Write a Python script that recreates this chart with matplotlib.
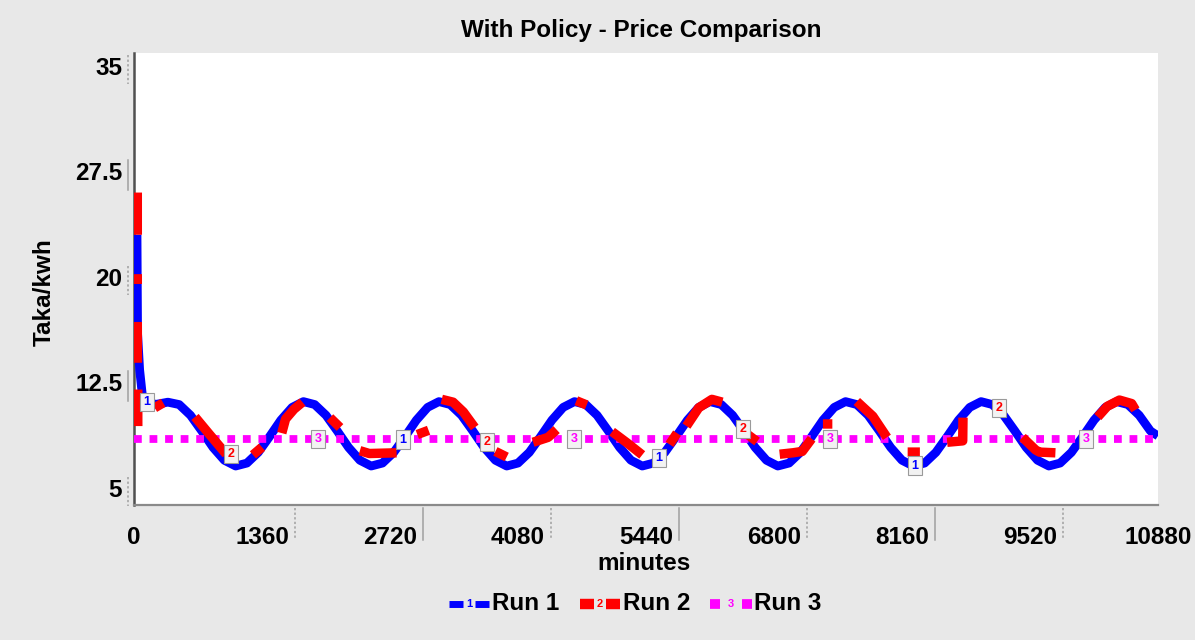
import numpy as np
import matplotlib
matplotlib.use("Agg")
import matplotlib.pyplot as plt
from matplotlib.lines import Line2D

plt.rcParams['font.family'] = ['Liberation Sans', 'DejaVu Sans']

nan = float("nan")

# labels
title = "With Policy - Price Comparison"
x_label = "minutes"
y_label = "Taka/kwh"
run_names = ["Run 1", "Run 2", "Run 3"]
x_ticks = [0, 1360, 2720, 4080, 5440, 6800, 8160, 9520, 10880]
y_ticks = [5, 12.5, 20, 27.5, 35]
y_tick_labels = ["5", "12.5", "20", "27.5", "35"]

# Run 1 (blue) - start spike, then the daily price cycle
run1_t = [32, 38, 60, 95, 170, 240, 360] + list(range(480, 10801, 120)) + [10880]
run1_v = [23.0, 16.0, 13.4, 11.2, 11.0, 10.95, 11.1,
          10.93, 10.17, 9.05, 7.88, 6.97, 6.56, 6.77, 7.53, 8.65, 9.82, 10.73, 11.14,
          10.93, 10.17, 9.05, 7.88, 6.97, 6.56, 6.77, 7.53, 8.65, 9.82, 10.73, 11.14,
          10.93, 10.17, 9.05, 7.88, 6.97, 6.56, 6.77, 7.53, 8.65, 9.82, 10.73, 11.14,
          10.93, 10.17, 9.05, 7.88, 6.97, 6.56, 6.77, 7.53, 8.65, 9.82, 10.73, 11.14,
          10.93, 10.17, 9.05, 7.88, 6.97, 6.56, 6.77, 7.53, 8.65, 9.82, 10.73, 11.14,
          10.93, 10.17, 9.05, 7.88, 6.97, 6.56, 6.77, 7.53, 8.65, 9.82, 10.73, 11.14,
          10.93, 10.17, 9.05, 7.88, 6.97, 6.56, 6.77, 7.53, 8.65, 9.82, 10.73, 11.14,
          10.93, 10.17, 9.05,
          8.7]

# Run 2 (red) - only the visible pieces, nan = gap
run2_t = [35, 35, nan, 35, 35, nan, 35, 36, nan, 40, 40, nan,
          220, 310, nan,
          648, 797, 980, nan,
          1264, 1360, nan,
          1570, 1610, 1700, 1790, nan,
          2082, 2189, nan,
          2400, 2500, 2790, nan,
          3010, 3130, nan,
          3270, 3390, 3500, 3620, nan,
          3840, 3960, nan,
          4240, 4400, 4490, nan,
          4700, 4810, nan,
          5080, 5240, 5400, nan,
          5690, 5770, nan,
          5870, 6000, 6140, 6250, nan,
          6520, 6620, nan,
          6860, 7000, 7100, 7200, nan,
          7320, 7420, nan,
          7680, 7850, 8000, nan,
          8220, 8350, nan,
          8640, 8805, 8808, nan,
          9160, 9220, nan,
          9440, 9580, 9620, 9790, nan,
          10240, 10340, 10470, 10600, 10640]
run2_v = [26.0, 23.0, nan, 20.2, 19.5, nan, 16.8, 13.9, nan, 12.0, 9.4, nan,
          10.7, 11.05, nan,
          10.05, 8.85, 7.4, nan,
          7.35, 7.9, nan,
          8.9, 9.9, 10.6, 11.1, nan,
          10.0, 9.3, nan,
          7.65, 7.45, 7.5, nan,
          8.8, 9.1, nan,
          11.3, 11.1, 10.4, 9.3, nan,
          7.6, 7.2, nan,
          8.25, 8.6, 9.15, nan,
          11.2, 10.9, nan,
          9.0, 8.2, 7.35, nan,
          8.1, 8.9, nan,
          9.4, 10.7, 11.3, 11.1, nan,
          8.8, 8.3, nan,
          7.4, 7.5, 7.6, 8.5, nan,
          9.55, 9.55, nan,
          11.15, 10.1, 8.6, nan,
          7.55, 7.55, nan,
          8.25, 8.35, 10.0, nan,
          10.9, 10.5, nan,
          8.6, 7.7, 7.55, 7.5, nan,
          10.05, 10.8, 11.25, 11.0, 10.55]

# Run 3 (magenta) - flat price
run3_t = [0, 10880]
run3_v = [8.5, 8.5]

# figure setup (pixel layout of the original)
W, H = 1195, 640
bg = '#e8e8e8'
colors = ['#0000ff', '#ff0000', '#ff00ff']
fs = 17.5

fig = plt.figure(figsize=(W / 100, H / 100), dpi=100, facecolor=bg)
ax = fig.add_axes([134 / W, (H - 505) / H, 1024 / W, 452 / H])
ax.set_facecolor('white')


def fxy(px, py):
    return px / W, 1 - py / H


# lines
ax.plot(run1_t, run1_v, color=colors[0], lw=6.3, solid_capstyle='butt',
        solid_joinstyle='round', zorder=3)
ax.plot(run3_t, run3_v, color=colors[2], lw=5.6, linestyle=(0, (1, 1.0)),
        dash_capstyle='butt', zorder=4)
ax.plot(run2_t, run2_v, color=colors[1], lw=6.8, solid_capstyle='butt',
        solid_joinstyle='round', zorder=5)

# little numbered markers along each run
series = [(run1_t, run1_v), (run2_t, run2_v), (run3_t, run3_v)]
marker_start = [138, 1031, 1955]
for i, (tt, vv) in enumerate(series):
    tt = np.array(tt, dtype=float)
    vv = np.array(vv, dtype=float)
    ok = np.isfinite(tt) & np.isfinite(vv)
    for k in range(4):
        mt = marker_start[i] + 2720 * k
        mv = np.interp(mt, tt[ok], vv[ok])
        ax.text(mt, mv, str(i + 1), color=colors[i], fontsize=9, fontweight='bold',
                ha='center', va='center', zorder=10,
                bbox=dict(boxstyle='square,pad=0.25', fc='#f2f2f2', ec='#9a9a9a', lw=0.8))

# axes
ax.set_xlim(0, 10880)
ax.set_ylim(3.79, 35.92)
for s in ['top', 'right']:
    ax.spines[s].set_visible(False)
ax.spines['left'].set_color('#505050')
ax.spines['left'].set_linewidth(1.8)
ax.spines['bottom'].set_color('#8a8a8a')
ax.spines['bottom'].set_linewidth(1.6)

ax.set_xticks(x_ticks)
ax.set_xticklabels([str(x) for x in x_ticks], fontsize=fs, fontweight='bold')
ax.set_yticks(y_ticks)
ax.set_yticklabels(y_tick_labels, fontsize=fs, fontweight='bold')
ax.tick_params(axis='x', length=0, pad=15)
ax.tick_params(axis='y', length=0, pad=8.5)

# vensim style tick dashes next to the y labels
for j, yv in enumerate(y_ticks):
    ls = (0, (1.5, 1.5)) if j % 2 == 0 else '-'
    ax.plot([-6 / 1024, -6 / 1024], [yv + 0.8, yv - 1.3], transform=ax.get_yaxis_transform(),
            color='#a0a0a0', lw=1.1, linestyle=ls, clip_on=False)

# and the separators under the x labels
for k in range(1, 8):
    ls = (0, (1.5, 1.5)) if k % 2 == 1 else '-'
    xs = 1360 * k + 354
    ax.plot([xs, xs], [-0.007, -0.077], transform=ax.get_xaxis_transform(),
            color='#a0a0a0', lw=1.1, linestyle=ls, clip_on=False)

# titles
fig.text(*fxy(641, 30), title, fontsize=fs, fontweight='bold', ha='center', va='center')
fig.text(*fxy(644, 563), x_label, fontsize=fs, fontweight='bold', ha='center', va='center')
fig.text(*fxy(44, 292), y_label, fontsize=fs, fontweight='bold', ha='center', va='center',
         rotation=90)

# legend at the bottom
leg_x = [449, 580, 710]
leg_y = 604
leg_lw = [5.0, 7.5, 7.0]
for i in range(3):
    x0 = leg_x[i]
    if i < 2:
        pieces = [(x0, x0 + 14), (x0 + 26, x0 + 40)]
        txt_x = x0 + 43
    else:
        pieces = [(x0, x0 + 10), (x0 + 32, x0 + 42)]
        txt_x = x0 + 44
    for a, b in pieces:
        (xa, ya), (xb, yb) = fxy(a, leg_y), fxy(b, leg_y)
        fig.add_artist(Line2D([xa, xb], [ya, yb], color=colors[i], lw=leg_lw[i],
                              solid_capstyle='butt'))
    nx = (pieces[0][1] + pieces[1][0]) / 2
    fig.text(*fxy(nx, leg_y), str(i + 1), color=colors[i], fontsize=8, fontweight='bold',
             ha='center', va='center')
    fig.text(*fxy(txt_x, leg_y), run_names[i], fontsize=fs, fontweight='bold',
             ha='left', va='center')

fig.savefig("out.png", dpi=100, facecolor=bg)
